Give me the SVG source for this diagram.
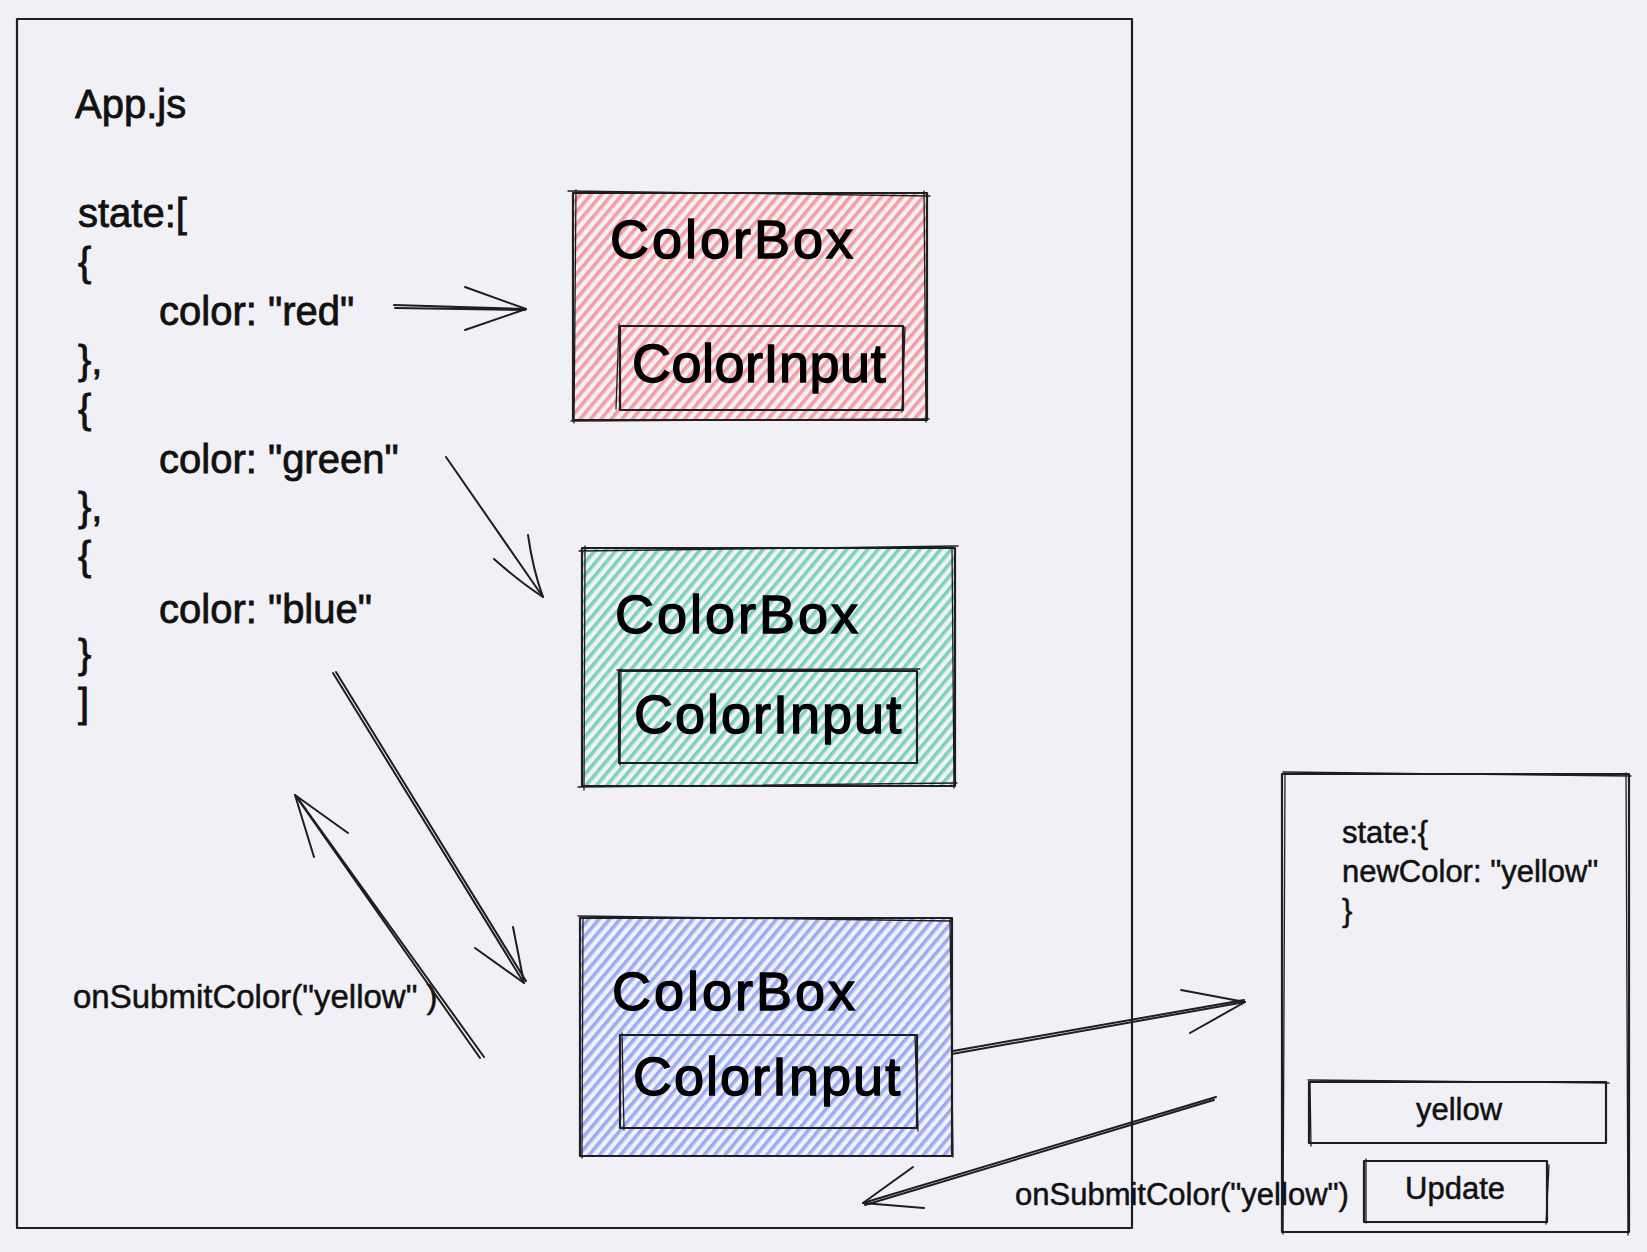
<svg xmlns="http://www.w3.org/2000/svg" width="1647" height="1252" viewBox="0 0 1647 1252">
<style>
.bg{fill:#f0f0f6}
.frame{fill:none;stroke:#1e1e1e;stroke-width:2.2;stroke-linecap:round;stroke-linejoin:round}
.thin{fill:none;stroke:#1e1e1e;stroke-width:1.3;stroke-linecap:round}
.conn{fill:none;stroke:#1e1e1e;stroke-width:2;stroke-linecap:round;stroke-linejoin:round}
.code{font-family:"Liberation Sans",Arial,sans-serif;font-size:40px;fill:#111;stroke:#111;stroke-width:0.8px}
.small{font-family:"Liberation Sans",Arial,sans-serif;font-size:31px;fill:#111;stroke:#111;stroke-width:0.5px}
.big{font-family:"Liberation Sans",Arial,sans-serif;font-size:54px;fill:#000;stroke:#000;stroke-width:1.4px;letter-spacing:3px}
.mid{font-family:"Liberation Sans",Arial,sans-serif;font-size:54px;fill:#000;stroke:#000;stroke-width:1.4px;letter-spacing:2px}
</style>
<defs>
<pattern id="hRed" width="8" height="10" patternUnits="userSpaceOnUse" patternTransform="rotate(40)">
<line x1="1" y1="0" x2="1" y2="10" stroke="#fa5252" stroke-width="1.1"/>
<line x1="2.9" y1="0" x2="2.9" y2="10" stroke="#fa5252" stroke-width="0.8"/>
</pattern>
<pattern id="hGreen" width="8" height="10" patternUnits="userSpaceOnUse" patternTransform="rotate(40)">
<line x1="1" y1="0" x2="1" y2="10" stroke="#12b886" stroke-width="1.1"/>
<line x1="2.9" y1="0" x2="2.9" y2="10" stroke="#12b886" stroke-width="0.8"/>
</pattern>
<pattern id="hBlue" width="8" height="10" patternUnits="userSpaceOnUse" patternTransform="rotate(40)">
<line x1="1" y1="0" x2="1" y2="10" stroke="#4c6ef5" stroke-width="1.1"/>
<line x1="2.9" y1="0" x2="2.9" y2="10" stroke="#4c6ef5" stroke-width="0.8"/>
</pattern>
</defs>
<rect class="bg" x="0" y="0" width="1647" height="1252"/>

<g id="app-frame">
<rect class="frame" x="17" y="19" width="1115" height="1209"/>
<text class="code" x="75" y="118">App.js</text>
<text class="code" x="78" y="227">state:[</text>
<text class="code" x="78" y="276">{</text>
<text class="code" x="159" y="325">color: "red"</text>
<text class="code" x="78" y="374">},</text>
<text class="code" x="78" y="423">{</text>
<text class="code" x="159" y="473">color: "green"</text>
<text class="code" x="78" y="521">},</text>
<text class="code" x="78" y="570">{</text>
<text class="code" x="159" y="623">color: "blue"</text>
<text class="code" x="78" y="668">}</text>
<text class="code" x="78" y="717">]</text>
<text class="small" x="73" y="1008" style="font-size:33px">onSubmitColor("yellow" )</text>
</g>

<g id="colorbox-red">
<rect x="573" y="193" width="354" height="227" fill="url(#hRed)"/>
<rect class="frame" x="573" y="193" width="354" height="227"/>
<path class="thin" d="M568 191 L930 196 M576 190 L574 423 M924 191 L926 422 M571 421 L929 419"/>
<rect class="frame" x="620" y="326" width="283" height="84"/>
<path class="thin" d="M619 324 L616 409 M905 327 L902 412"/>
<text class="big" x="610" y="258">ColorBox</text>
<text class="mid" x="632" y="382" style="letter-spacing:0.5px">ColorInput</text>
</g>

<g id="colorbox-green">
<rect x="582" y="548" width="373" height="238" fill="url(#hGreen)"/>
<rect class="frame" x="582" y="548" width="373" height="238"/>
<path class="thin" d="M579 551 L958 546 M585 546 L584 790 M952 546 L954 788 M578 787 L957 783"/>
<rect class="frame" x="619" y="671" width="298" height="92"/>
<path class="thin" d="M617 670 L920 669 M621 669 L620 765"/>
<text class="big" x="615" y="633">ColorBox</text>
<text class="mid" x="634" y="733">ColorInput</text>
</g>

<g id="colorbox-blue">
<rect x="580" y="918" width="372" height="238" fill="url(#hBlue)"/>
<rect class="frame" x="580" y="918" width="372" height="238"/>
<path class="thin" d="M578 916 L951 921 M583 917 L582 1158 M950 918 L953 1157"/>
<rect class="frame" x="620" y="1035" width="297" height="93"/>
<path class="thin" d="M622 1033 L624 1130 M915 1036 L918 1131"/>
<text class="big" x="612" y="1010">ColorBox</text>
<text class="mid" x="633" y="1095">ColorInput</text>
</g>

<g id="colorinput-panel">
<rect class="frame" x="1282" y="774" width="347" height="458"/>
<path class="thin" d="M1283 772 L1631 776 M1285 775 L1283 1234 M1626 773 L1628 1235"/>
<text class="small" x="1342" y="843">state:{</text>
<text class="small" x="1342" y="882">newColor: "yellow"</text>
<text class="small" x="1342" y="921">}</text>
</g>

<g id="yellow-input">
<rect class="frame" x="1309" y="1082" width="297" height="61"/>
<path class="thin" d="M1308 1080 L1609 1083 M1310 1083 L1311 1146"/>
<text class="small" x="1459" y="1120" text-anchor="middle">yellow</text>
</g>

<g id="update-button">
<rect class="frame" x="1364" y="1161" width="183" height="61"/>
<path class="thin" d="M1366 1159 L1366 1223 M1549 1165 L1546 1224"/>
<text class="small" x="1455" y="1199" text-anchor="middle">Update</text>
</g>

<text class="small" x="1015" y="1205">onSubmitColor("yellow")</text>

<g id="connectors">
<path class="conn" d="M394 305 L526 309 M395 308 L525 310"/>
<path class="conn" d="M465 287 L526 309 L465 330"/>
<path class="conn" d="M446 457 L543 597"/>
<path class="conn" d="M528 535 Q533 570 543 597 M494 559 Q520 582 543 597"/>
<path class="conn" d="M333 673 L524 983 M336 672 L526 981"/>
<path class="conn" d="M513 927 L524 983 L475 948"/>
<path class="conn" d="M480 1058 L295 795 M484 1057 L297 797"/>
<path class="conn" d="M348 833 L295 795 L314 857"/>
<path class="conn" d="M952 1054 L1245 1002 M953 1051 L1244 1000"/>
<path class="conn" d="M1181 990 L1245 1002 L1190 1033"/>
<path class="conn" d="M1216 1097 L863 1203 M1214 1100 L865 1205"/>
<path class="conn" d="M913 1167 L863 1203 L924 1208"/>
</g>
</svg>
